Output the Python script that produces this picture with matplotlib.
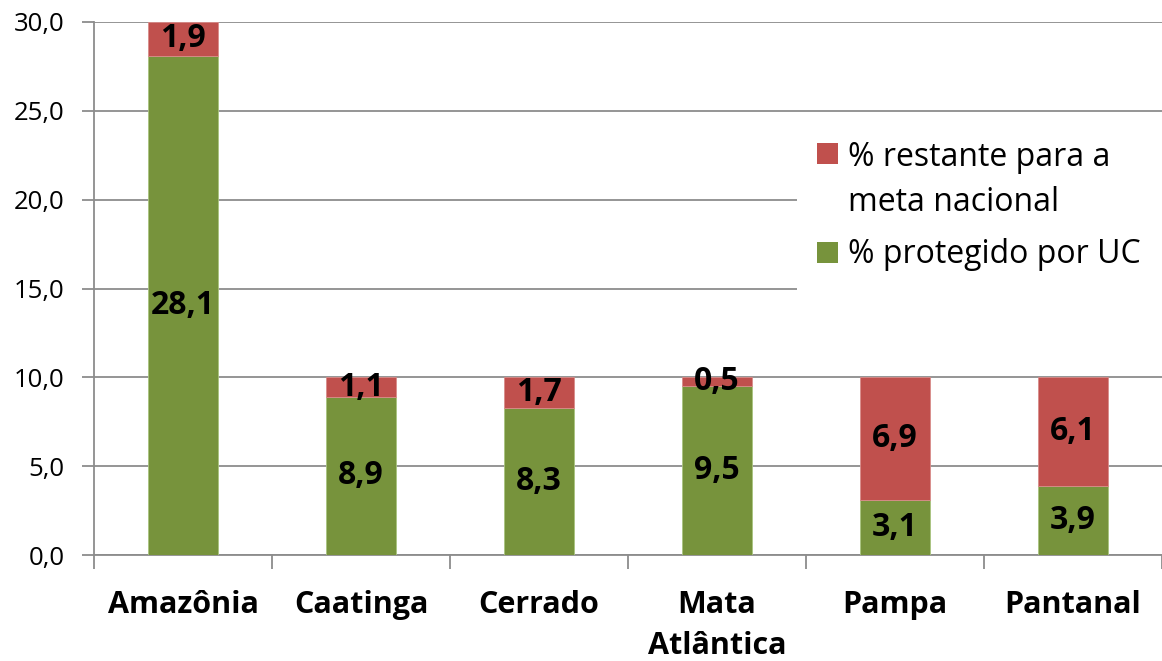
import matplotlib
matplotlib.use("Agg")
import matplotlib.pyplot as plt
import numpy as np
from matplotlib.patches import Rectangle

# Biomes and the share of each one covered by conservation units (UC)
biomes = ["Amazônia", "Caatinga", "Cerrado", "Mata\nAtlântica", "Pampa", "Pantanal"]
protected = [28.1, 8.9, 8.3, 9.5, 3.1, 3.9]
remaining = [1.9, 1.1, 1.7, 0.5, 6.9, 6.1]
y_ticks = [0, 5, 10, 15, 20, 25, 30]
legend_lines = ["% restante para a", "meta nacional", "% protegido por UC"]

green = "#77933C"
red = "#C0504D"
grid_c = "#8C8C8C"

plt.rcParams["font.family"] = ["Open Sans", "DejaVu Sans"]

W, H = 1162, 661
fig = plt.figure(figsize=(W / 100, H / 100), dpi=100)
ax = fig.add_axes([94 / W, (H - 555) / H, (1162 - 94) / W, (555 - 22) / H])

x = np.arange(len(biomes))
bw = 0.39
ax.bar(x, protected, bw, color=green, edgecolor="#A9C47F", linewidth=0.6, zorder=3)
ax.bar(x, remaining, bw, bottom=protected, color=red, edgecolor="#D98C8A", linewidth=0.6,
       zorder=3)

fmt = lambda v: f"{v:.1f}".replace(".", ",")
for xi, p, r in zip(x, protected, remaining):
    ax.text(xi, p / 2, fmt(p), ha="center", va="center", fontsize=23,
            fontweight="bold", zorder=5)
    ax.text(xi, p + r / 2, fmt(r), ha="center", va="center", fontsize=23,
            fontweight="bold", zorder=5)

ax.set_xlim(-0.5, len(biomes) - 0.5)
ax.set_ylim(0, 30)
ax.set_yticks(y_ticks)
ax.set_yticklabels([fmt(v) for v in y_ticks], fontsize=18.5)
ax.yaxis.grid(True, color=grid_c, linewidth=1.3, zorder=0)
ax.set_axisbelow(True)

ax.set_xticks(x)
ax.set_xticklabels(biomes, fontsize=22, fontweight="bold", linespacing=1.5)
ax.set_xticks(np.arange(-0.5, len(biomes), 1.0), minor=True)
ax.tick_params(axis="x", which="major", length=0, pad=25)
ax.tick_params(axis="x", which="minor", length=10, width=1.3, color=grid_c)
ax.tick_params(axis="y", length=9, width=1.3, color=grid_c, pad=12)

for s in ["top", "right"]:
    ax.spines[s].set_visible(False)
for s in ["left", "bottom"]:
    ax.spines[s].set_color(grid_c)
    ax.spines[s].set_linewidth(1.3)

# Legend box drawn in figure pixel coordinates (origin at top-left)
def fx(px):
    return px / W

def fy(py):
    return 1 - py / H

fig.patches.append(Rectangle((fx(797), fy(293)), fx(1162) - fx(797), fy(122) - fy(293),
                             transform=fig.transFigure, facecolor="white",
                             edgecolor="none", zorder=10))
for (top, color) in [(143, red), (242, green)]:
    fig.patches.append(Rectangle((fx(817), fy(top + 21)), fx(838) - fx(817),
                                 fy(top) - fy(top + 21), transform=fig.transFigure,
                                 facecolor=color, edgecolor="none", zorder=11))
for line, base in zip(legend_lines, [166, 211, 263]):
    fig.text(fx(848), fy(base), line, fontsize=23, ha="left", va="baseline", zorder=12)

fig.savefig("out.png", dpi=100, facecolor="white")
